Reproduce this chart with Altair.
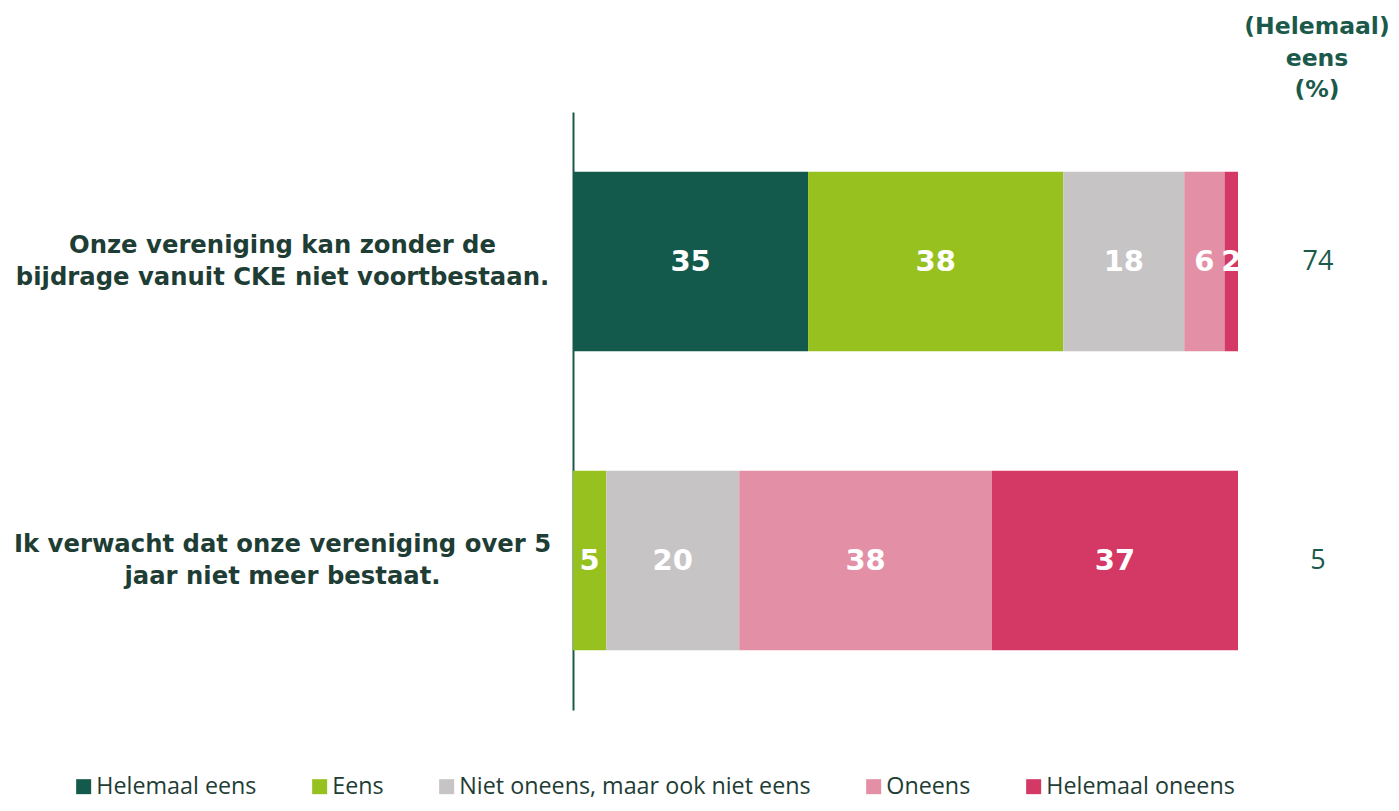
import altair as alt
import pandas as pd

categories = [
    "Onze vereniging kan zonder de bijdrage vanuit CKE niet voortbestaan.",
    "Ik verwacht dat onze vereniging over 5 jaar niet meer bestaat.",
]
label_lines = [
    ["Onze vereniging kan zonder de", "bijdrage vanuit CKE niet voortbestaan."],
    ["Ik verwacht dat onze vereniging over 5", "jaar niet meer bestaat."],
]
answers = ["Helemaal eens", "Eens", "Niet oneens, maar ook niet eens", "Oneens", "Helemaal oneens"]
colors = ["#135a4c", "#96c11f", "#c6c4c5", "#e390a6", "#d43864"]
values_q1 = [35, 38, 18, 6, 2]
values_q2 = [0, 5, 20, 38, 37]
agree_totals = [74, 5]
header_lines = ["(Helemaal)", "eens", "(%)"]

rows = []
for cat, vals in zip(categories, [values_q1, values_q2]):
    for i, (ans, v) in enumerate(zip(answers, vals)):
        rows.append({"cat": cat, "answer": ans, "order": i, "value": v})
df = pd.DataFrame(rows)
df_tot = pd.DataFrame({"cat": categories, "total": agree_totals})
df_head = pd.DataFrame({"h": [0]})

label_expr = " : ".join(
    f"datum.value == {c!r} ? {l!r}" for c, l in zip(categories, label_lines)
) + " : datum.label"

LABEL_FONT = "DejaVu Sans"
NUM_FONT = "DejaVu Sans"
DARK = "#1e3d35"
GREEN = "#1b5a4b"

xscale = alt.Scale(domain=[0, 818 / 665], nice=False)
yenc = alt.Y(
    "cat:N",
    sort=categories,
    scale=alt.Scale(paddingInner=0.4, paddingOuter=0.2),
    axis=alt.Axis(
        title=None,
        ticks=False,
        grid=False,
        domainColor=GREEN,
        domainWidth=2,
        labelAlign="center",
        labelBaseline="middle",
        labelPadding=291,
        labelOffset=-16,
        labelFontSize=24.3,
        labelFontWeight="bold",
        labelFont=LABEL_FONT,
        labelColor=DARK,
        labelLineHeight=32,
        labelLimit=0,
        labelExpr=label_expr,
    ),
)

base = alt.Chart(df).transform_stack(
    stack="value",
    groupby=["cat"],
    as_=["x0", "x1"],
    offset="normalize",
    sort=[alt.SortField("order", order="ascending")],
)

bars = base.transform_filter("datum.value > 0").mark_bar().encode(
    x=alt.X("x0:Q", scale=xscale, axis=None),
    x2="x1:Q",
    y=yenc,
    color=alt.Color(
        "answer:N",
        sort=answers,
        scale=alt.Scale(domain=answers, range=colors),
        legend=alt.Legend(
            title=None,
            orient="none",
            direction="horizontal",
            columns=5,
            legendX=-501,
            legendY=663,
            symbolType="square",
            symbolSize=225,
            symbolStrokeWidth=0,
            symbolOpacity=1,
            labelFont="Open Sans",
            labelFontSize=23.3,
            labelColor=DARK,
            labelOffset=1,
            labelLimit=0,
            columnPadding=51,
            padding=0,
        ),
    ),
)

texts = base.transform_filter("datum.value > 0").transform_calculate(
    mid="(datum.x0 + datum.x1) / 2"
).mark_text(
    color="white", fontSize=29, fontWeight="bold", font=NUM_FONT, baseline="middle"
).encode(
    x=alt.X("mid:Q", scale=xscale, axis=None),
    y=alt.Y("cat:N", sort=categories),
    text="value:Q",
)

totals = alt.Chart(df_tot).mark_text(
    fontSize=27, color=GREEN, font="Open Sans", baseline="middle"
).encode(
    x=alt.value(745),
    y=alt.Y("cat:N", sort=categories),
    text="total:Q",
)

header = alt.Chart(df_head).mark_text(
    fontSize=23.5, fontWeight="bold", color=GREEN, font=LABEL_FONT,
    baseline="middle", align="center", lineHeight=31.5,
).encode(
    x=alt.value(744),
    y=alt.value(-85),
    text=alt.value(header_lines),
)

chart = alt.layer(bars, texts, totals, header).properties(
    width=818,
    height=598,
    autosize=alt.AutoSizeParams(type="none"),
    padding={"left": 565, "top": 104, "right": 0, "bottom": 93},
).configure_view(stroke=None)

chart.save("out.html", embed_options={"renderer": "svg", "actions": False})
